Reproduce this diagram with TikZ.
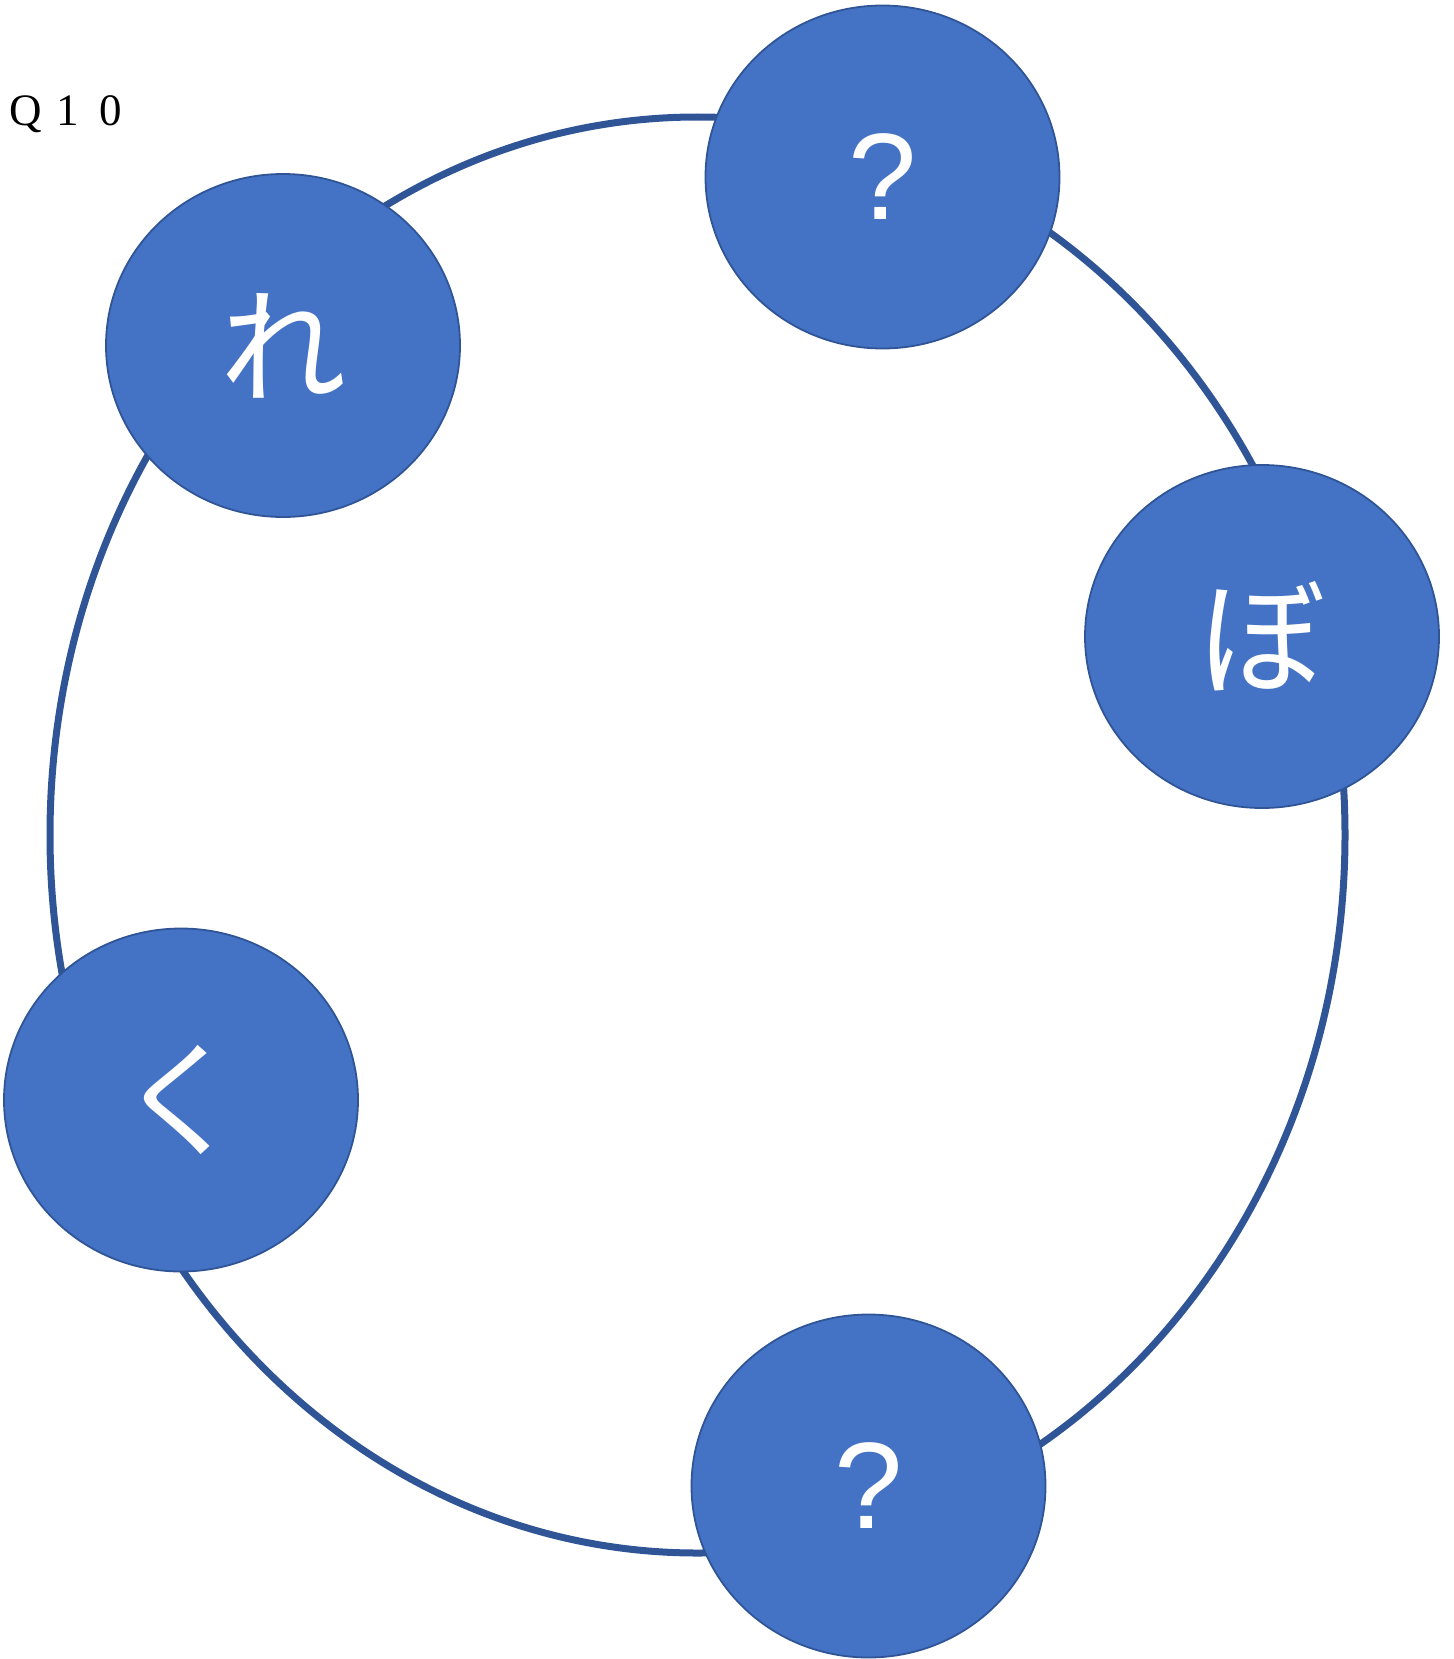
\documentclass[tikz,border=0pt]{standalone}
\usepackage{fontspec}
\setmainfont{Liberation Serif}
\newfontfamily\cjk{Noto Sans CJK JP}
\newfontfamily\qsans{Liberation Sans}
\usetikzlibrary{shapes.geometric}
\definecolor{fillblue}{HTML}{4472C4}
\definecolor{lineblue}{HTML}{2F5597}
\tikzset{
  ring/.style={draw=lineblue, line width=7pt},
  kana/.style={ellipse, draw=lineblue, line width=1.8pt, fill=fillblue,
    minimum width=354pt, minimum height=343pt, inner sep=0pt,
    text=white, font=\cjk\fontsize{126}{126}\selectfont},
  qmark/.style={kana, font=\qsans\fontsize{123}{123}\selectfont},
  label/.style={inner sep=0pt, anchor=base west, font=\fontsize{45}{45}\selectfont}
}
\begin{document}
\begin{tikzpicture}[x=1pt, y=-1pt]
  \useasboundingbox (0,0) rectangle (1453,1659);
  \draw[ring] (697.5,835) ellipse [x radius=647.5pt, y radius=718pt];
  \node[label] (title) at (9,126) {Q\hspace{15pt}1\hspace{20pt}0};
  \node[qmark] (top) at (882.5,177) {?};
  \node[kana] (re) at (283,345.5) {れ};
  \node[kana] (bo) at (1262,636.5) {ぼ};
  \node[kana] (ku) at (181,1100) {く};
  \node[qmark] (bottom) at (868.5,1486) {?};
\end{tikzpicture}
\end{document}
